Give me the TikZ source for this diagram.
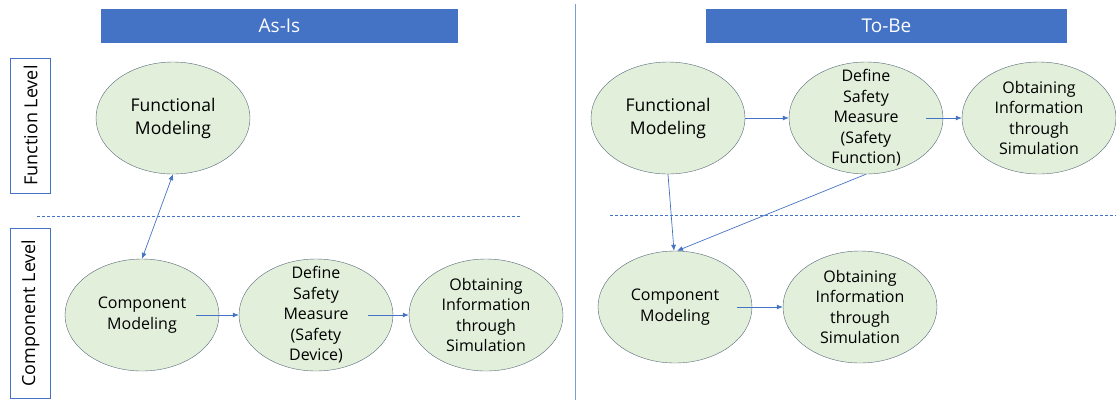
\documentclass[tikz,border=0pt]{standalone}
\usepackage{fontspec}
\setmainfont{Open Sans}
\usepackage{xcolor}
\usetikzlibrary{shapes.geometric,arrows.meta}
\definecolor{barblue}{HTML}{4472C4}
\definecolor{ovalgreen}{HTML}{E2EFDA}
\definecolor{ovalline}{HTML}{56677A}

\begin{document}
\begin{tikzpicture}[x=1pt, y=-1pt,
      oval/.style = {shape=ellipse, draw=ovalline, fill=ovalgreen, align=center,
        inner sep=-12pt, minimum width=154pt, minimum height=112pt,
        font=\fontsize{16}{20.5}\selectfont},
      bigoval/.style = {oval, font=\fontsize{17.5}{23}\selectfont},
      bar/.style = {fill=barblue, text=white, minimum height=34pt,
        font=\fontsize{19}{22}\selectfont},
      level/.style = {draw=barblue, rotate=90, minimum height=40pt,
        font=\fontsize{18}{21}\selectfont},
      link/.style = {draw=barblue, line width=0.7pt, -{Latex[length=6pt,width=5pt]}},
      twoway/.style = {link, {Latex[length=6pt,width=5pt]}-{Latex[length=6pt,width=5pt]}},
      sep/.style = {draw=barblue, line width=0.6pt, dash pattern=on 3pt off 2pt}]
  \useasboundingbox (0,0) rectangle (1116,400);
  % headers and level boxes
  \node[bar, minimum width=357pt] (asis) at (279.5,26) {As-Is};
  \node[bar, minimum width=361pt] (tobe) at (886.5,26) {To-Be};
  \node[level, minimum width=135pt] (funlvl) at (30.5,125.5) {Function Level};
  \node[level, minimum width=170pt] (complvl) at (30.5,313) {Component Level};
  \draw[draw=barblue!70, line width=0.8pt] (575,4) -- (575,400);
  \draw[sep] (37,216) -- (520,216);
  \draw[sep] (610,215) -- (1116,215);
  % As-Is
  \node[bigoval] (asisFunc) at (173,118) {Functional\\Modeling};
  \node[oval] (asisComp) at (142,315) {Component\\Modeling};
  \node[oval] (asisSafety) at (316,315) {Define\\Safety\\Measure\\(Safety\\Device)};
  \node[oval] (asisSim) at (486,315) {Obtaining\\Information\\through\\Simulation};
  \draw[twoway] (asisFunc.south) -- (asisComp.north);
  \draw[link] ([xshift=-23pt]asisComp.east) -- (asisSafety.west);
  \draw[link] ([xshift=-25pt]asisSafety.east) -- (asisSim.west);
  % To-Be
  \node[bigoval] (tobeFunc) at (668,118) {Functional\\Modeling};
  \node[oval] (tobeSafety) at (866,118) {Define\\Safety\\Measure\\(Safety\\Function)};
  \node[oval] (tobeSimTop) at (1039,118) {Obtaining\\Information\\through\\Simulation};
  \node[oval] (tobeComp) at (675,307) {Component\\Modeling};
  \node[oval] (tobeSim) at (860,307) {Obtaining\\Information\\through\\Simulation};
  \draw[link] (tobeFunc.east) -- (tobeSafety.west);
  \draw[link] ([xshift=-17pt]tobeSafety.east) -- (tobeSimTop.west);
  \draw[link] (tobeFunc.south) -- ([xshift=-1pt]tobeComp.north);
  \draw[link] (tobeSafety.south) -- ([xshift=2pt]tobeComp.north);
  \draw[link] ([xshift=-15pt]tobeComp.east) -- (tobeSim.west);
\end{tikzpicture}
\end{document}
